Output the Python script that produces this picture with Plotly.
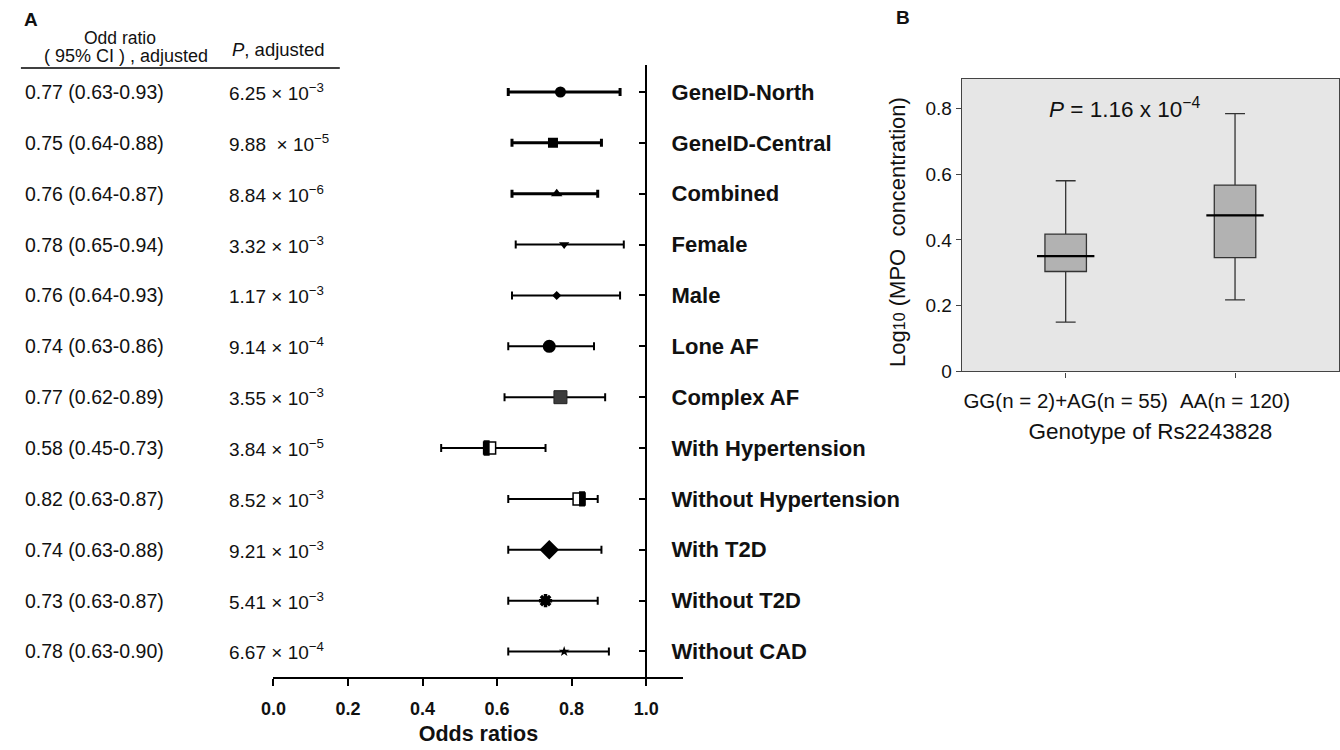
import plotly.graph_objects as go

# ---------------- data ----------------
groups = ["GeneID-North", "GeneID-Central", "Combined", "Female", "Male", "Lone AF",
          "Complex AF", "With Hypertension", "Without Hypertension", "With T2D",
          "Without T2D", "Without CAD"]
or_vals = [0.77, 0.75, 0.76, 0.78, 0.76, 0.74, 0.77, 0.58, 0.82, 0.74, 0.73, 0.78]
ci_lo = [0.63, 0.64, 0.64, 0.65, 0.64, 0.63, 0.62, 0.45, 0.63, 0.63, 0.63, 0.63]
ci_hi = [0.93, 0.88, 0.87, 0.94, 0.93, 0.86, 0.89, 0.73, 0.87, 0.88, 0.87, 0.90]
p_mant = ["6.25", "9.88\u00a0", "8.84", "3.32", "1.17", "9.14", "3.55", "3.84",
          "8.52", "9.21", "5.41", "6.67"]
p_exp = ["3", "5", "6", "3", "3", "4", "3", "5", "3", "3", "3", "4"]
x_ticks = [0.0, 0.2, 0.4, 0.6, 0.8, 1.0]
x_ticklabels = ["0.0", "0.2", "0.4", "0.6", "0.8", "1.0"]

geno_cats = ["GG(n = 2)+AG(n = 55)", "AA(n = 120)"]
box_low = [0.15, 0.218]
box_q1 = [0.304, 0.346]
box_med = [0.351, 0.475]
box_q3 = [0.418, 0.567]
box_high = [0.58, 0.784]
b_ticks = [0, 0.2, 0.4, 0.6, 0.8]
b_ticklabels = ["0", "0.2", "0.4", "0.6", "0.8"]

# ---------------- styles ----------------
W, H = 1340, 750
FONT = "Arial, Liberation Sans, Helvetica, sans-serif"
TXT = "#111111"
markers = [
    dict(symbol="circle", size=11, color="black"),
    dict(symbol="square", size=10, color="black"),
    dict(symbol="triangle-up", size=10, color="black"),
    dict(symbol="triangle-down", size=9, color="black"),
    dict(symbol="diamond", size=7, color="black"),
    dict(symbol="circle", size=13, color="black"),
    dict(symbol="square", size=13, color="#3c3c3c", line=dict(color="#222", width=1)),
    dict(symbol="square", size=12, color="white", line=dict(color="black", width=1.5)),
    dict(symbol="square", size=12, color="white", line=dict(color="black", width=1.5)),
    dict(symbol="diamond", size=15, color="black"),
    dict(symbol="asterisk-open", size=11, color="black", line=dict(color="black", width=3.5)),
    dict(symbol="star", size=8, color="black"),
]
thick = [3, 3, 3, 2, 2, 2, 2, 2, 2, 2, 2, 2]
half_fill = {7: -1, 8: 1}   # side of the filled half for the split squares

def px(x):
    return x / W

def py(y):
    return 1 - y / H

xa_dom = [px(263), px(677)]
xa_rng = [0, 1.1]
ya_dom = [py(687), py(66)]
ya_rng = [11.5, -0.53]
line_pos = xa_dom[0] + (1.0 - xa_rng[0]) / (xa_rng[1] - xa_rng[0]) * (xa_dom[1] - xa_dom[0])
unit_px = (677 - 263) / (xa_rng[1] - xa_rng[0])

fig = go.Figure()
rows = list(range(len(groups)))

for i in rows:
    fig.add_trace(go.Scatter(
        x=[or_vals[i]], y=[i], mode="markers",
        marker=markers[i],
        error_x=dict(type="data", symmetric=False,
                     array=[ci_hi[i] - or_vals[i]],
                     arrayminus=[or_vals[i] - ci_lo[i]],
                     color="black", thickness=thick[i], width=4),
        xaxis="x", yaxis="y", showlegend=False, hoverinfo="skip"))
    if i in half_fill:
        fig.add_trace(go.Scatter(
            x=[or_vals[i] + half_fill[i] * 3 / unit_px], y=[i], mode="markers",
            marker=dict(symbol="line-ns", size=11, line=dict(color="black", width=6)),
            xaxis="x", yaxis="y", showlegend=False, hoverinfo="skip"))

# Panel B boxes
for j, c in enumerate(geno_cats):
    fig.add_trace(go.Box(
        x=[c], q1=[box_q1[j]], median=[box_med[j]], q3=[box_q3[j]],
        lowerfence=[box_low[j]], upperfence=[box_high[j]],
        fillcolor="#b2b2b2", line=dict(color="#333333", width=1.3),
        whiskerwidth=0.48, width=0.245, boxpoints=False,
        xaxis="x2", yaxis="y2", showlegend=False, hoverinfo="skip"))
fig.add_trace(go.Scatter(
    x=geno_cats, y=box_med, mode="markers",
    marker=dict(symbol="line-ew", size=41, line=dict(color="black", width=2.2)),
    xaxis="x2", yaxis="y2", showlegend=False, hoverinfo="skip"))

ann = []
# row texts
for i in rows:
    ann.append(dict(x=px(10), y=i, xref="paper", yref="y", xanchor="left", yanchor="middle",
                    text=f"{or_vals[i]:.2f} ({ci_lo[i]:.2f}-{ci_hi[i]:.2f})",
                    showarrow=False, font=dict(size=19.5, color=TXT, family=FONT)))
    ann.append(dict(x=px(216), y=i, xref="paper", yref="y", xanchor="left", yanchor="middle",
                    text=f"{p_mant[i]} × 10<sup>−{p_exp[i]}</sup>",
                    showarrow=False, font=dict(size=19, color=TXT, family=FONT)))
# headers
ann += [
    dict(x=px(9), y=py(20), xref="paper", yref="paper", xanchor="left", yanchor="middle",
         text="<b>A</b>", showarrow=False, font=dict(size=19, color=TXT, family=FONT)),
    dict(x=px(890), y=py(18), xref="paper", yref="paper", xanchor="left", yanchor="middle",
         text="<b>B</b>", showarrow=False, font=dict(size=19, color=TXT, family=FONT)),
    dict(x=px(108), y=py(39), xref="paper", yref="paper", xanchor="center", yanchor="middle",
         text="Odd ratio", showarrow=False, font=dict(size=17.5, color=TXT, family=FONT)),
    dict(x=px(114), y=py(57), xref="paper", yref="paper", xanchor="center", yanchor="middle",
         text="( 95% CI ) , adjusted", showarrow=False, font=dict(size=18, color=TXT, family=FONT)),
    dict(x=px(219), y=py(50), xref="paper", yref="paper", xanchor="left", yanchor="middle",
         text="<i>P</i>, adjusted", showarrow=False, font=dict(size=18.5, color=TXT, family=FONT)),
    dict(x=px(1122), y=py(110), xref="paper", yref="paper", xanchor="center", yanchor="middle",
         text="<i>P</i> = 1.16 x 10<sup>−4</sup>", showarrow=False,
         font=dict(size=22.5, color=TXT, family=FONT)),
    dict(x=px(893), y=py(235), xref="paper", yref="paper", xanchor="center", yanchor="middle",
         textangle=-90,
         text="Log<span style='font-size:16px'>10</span> (MPO  concentration)",
         showarrow=False, font=dict(size=22, color=TXT, family=FONT)),
]

shapes = [
    dict(type="line", xref="paper", yref="paper", x0=px(8), x1=px(330), y0=py(69), y1=py(69),
         line=dict(color="black", width=1.5)),
    dict(type="rect", xref="x2 domain", yref="y2 domain", x0=0, x1=1, y0=0, y1=1,
         fillcolor="#e6e6e6", line=dict(width=0), layer="below"),
]

fig.update_layout(
    width=W, height=H,
    margin=dict(l=0, r=0, t=0, b=0),
    paper_bgcolor="white", plot_bgcolor="rgba(0,0,0,0)",
    font=dict(family=FONT, color=TXT),
    annotations=ann, shapes=shapes,
    xaxis=dict(domain=xa_dom, range=xa_rng, tickvals=x_ticks, ticktext=x_ticklabels,
               showline=True, linecolor="black", linewidth=2, ticks="outside", ticklen=7,
               tickwidth=2, tickcolor="black", showgrid=False, zeroline=False,
               ticklabelstandoff=7,
               tickfont=dict(size=18, weight="bold", family=FONT, color=TXT),
               title=dict(text="<b>Odds ratios</b>", font=dict(size=21.5, family=FONT, color=TXT),
                          standoff=8),
               anchor="y"),
    yaxis=dict(domain=ya_dom, range=ya_rng, tickvals=rows, ticktext=groups,
               side="right", anchor="free", position=line_pos,
               showline=True, linecolor="black", linewidth=2, ticks="inside", ticklen=6,
               tickwidth=1.5, tickcolor="black", showgrid=False, zeroline=False,
               ticklabelstandoff=20,
               tickfont=dict(size=22, weight="bold", family=FONT, color=TXT)),
    xaxis2=dict(domain=[px(958), px(1339)], range=[-0.614, 1.614], anchor="y2",
                type="category", categoryarray=geno_cats, tickangle=0,
                showline=True, mirror=True, linecolor="#444", linewidth=1.2,
                ticks="outside", ticklen=5, tickcolor="#444", showgrid=False, zeroline=False,
                ticklabelstandoff=6,
                tickfont=dict(size=20.5, family=FONT, color=TXT),
                title=dict(text="Genotype of Rs2243828", font=dict(size=22.5, family=FONT, color=TXT),
                           standoff=12)),
    yaxis2=dict(domain=[py(377), py(80)], range=[0, 0.89], anchor="x2",
                tickvals=b_ticks, ticktext=b_ticklabels,
                showline=True, mirror=True, linecolor="#444", linewidth=1.2,
                ticks="outside", ticklen=5, tickcolor="#444", showgrid=False, zeroline=False,
                tickfont=dict(size=19, family=FONT, color=TXT)),
)

fig.write_html("out.html", config={"displayModeBar": False},
               post_script="document.body.style.margin='0';")
